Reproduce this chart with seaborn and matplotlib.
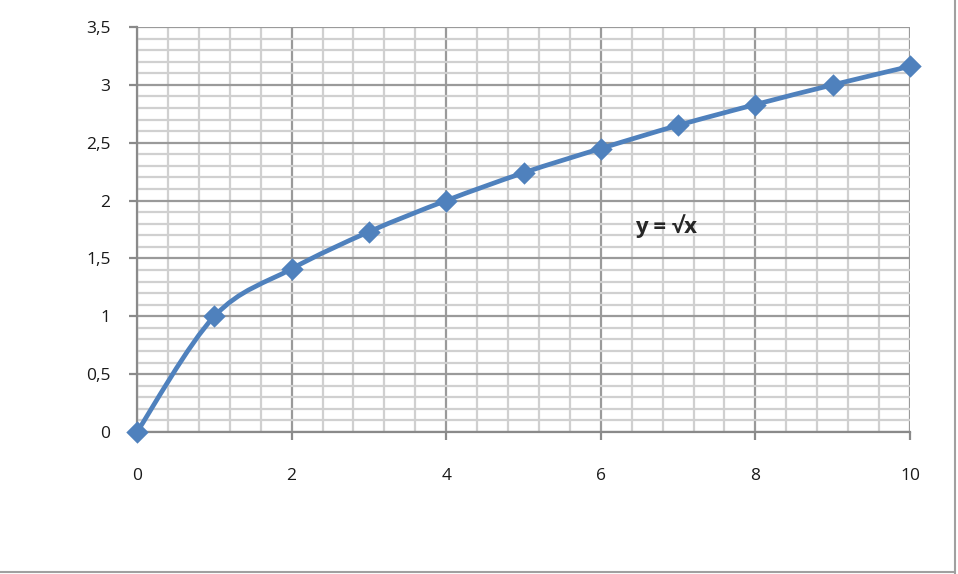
import numpy as np
import matplotlib
matplotlib.use("Agg")
import matplotlib.pyplot as plt
from matplotlib.path import Path
from matplotlib.patches import PathPatch
from matplotlib.lines import Line2D
from matplotlib.ticker import MultipleLocator, FuncFormatter
import seaborn as sns

# --- data ---
x_vals = [0, 1, 2, 3, 4, 5, 6, 7, 8, 9, 10]
y_vals = [0, 1, 1.41, 1.73, 2, 2.24, 2.45, 2.65, 2.83, 3, 3.16]
label_text = "y = \u221ax"

blue = "#4F81BD"

sns.set_style("white")
plt.rcParams["font.family"] = ["Open Sans", "DejaVu Sans"]

fig = plt.figure(figsize=(9.58, 5.74), dpi=100)
ax = fig.add_axes([137 / 958, 142 / 574, 773 / 958, 405 / 574])

# smoothed line (Excel style) as Catmull-Rom Bezier segments through the points
xs = np.array(x_vals, dtype=float)
ys = np.array(y_vals, dtype=float)
verts = [(xs[0], ys[0])]
codes = [Path.MOVETO]
n = len(xs)
for i in range(n - 1):
    p0 = np.array([xs[max(i - 1, 0)], ys[max(i - 1, 0)]])
    p1 = np.array([xs[i], ys[i]])
    p2 = np.array([xs[i + 1], ys[i + 1]])
    p3 = np.array([xs[min(i + 2, n - 1)], ys[min(i + 2, n - 1)]])
    c1 = p1 + (p2 - p0) / 6.0
    c2 = p2 - (p3 - p1) / 6.0
    verts += [tuple(c1), tuple(c2), tuple(p2)]
    codes += [Path.CURVE4] * 3
ax.add_patch(PathPatch(Path(verts, codes), facecolor="none", edgecolor=blue,
                       lw=3.4, capstyle="round", joinstyle="round", zorder=3))

sns.scatterplot(x=x_vals, y=y_vals, marker="D", s=130, color=blue,
                edgecolor=blue, linewidth=0, ax=ax, zorder=4, clip_on=False)

ax.set_xlim(0, 10)
ax.set_ylim(0, 3.5)
ax.xaxis.set_major_locator(MultipleLocator(2))
ax.xaxis.set_minor_locator(MultipleLocator(0.4))
ax.yaxis.set_major_locator(MultipleLocator(0.5))
ax.yaxis.set_minor_locator(MultipleLocator(0.1))
ax.yaxis.set_major_formatter(FuncFormatter(lambda v, p: f"{v:g}".replace(".", ",")))

ax.grid(which="minor", color="#d0d0d0", lw=1.6)
ax.grid(which="major", color="#9a9a9a", lw=1.6)
ax.set_axisbelow(True)

for side in ["top", "right"]:
    ax.spines[side].set_visible(False)
ax.spines["left"].set_color("#8a8a8a")
ax.spines["bottom"].set_color("#8a8a8a")
ax.spines["left"].set_linewidth(1.6)
ax.spines["bottom"].set_linewidth(1.6)

ax.tick_params(which="major", direction="out", length=6, width=1.6, color="#8a8a8a",
               labelsize=12.5, labelcolor="#1a1a1a")
ax.tick_params(axis="x", which="major", pad=20, bottom=True)
ax.tick_params(axis="y", which="major", pad=13, left=True)
ax.tick_params(which="minor", length=0)

ax.text(6.85, 1.78, label_text, fontsize=16, fontweight="bold", ha="center", va="center")

# chart area border
fig.add_artist(Line2D([955 / 958, 955 / 958], [0, 1], color="#a0a0a0", lw=1.5))
fig.add_artist(Line2D([0, 955 / 958], [2 / 574, 2 / 574], color="#a0a0a0", lw=1.5))

fig.savefig("out.png", dpi=100)
